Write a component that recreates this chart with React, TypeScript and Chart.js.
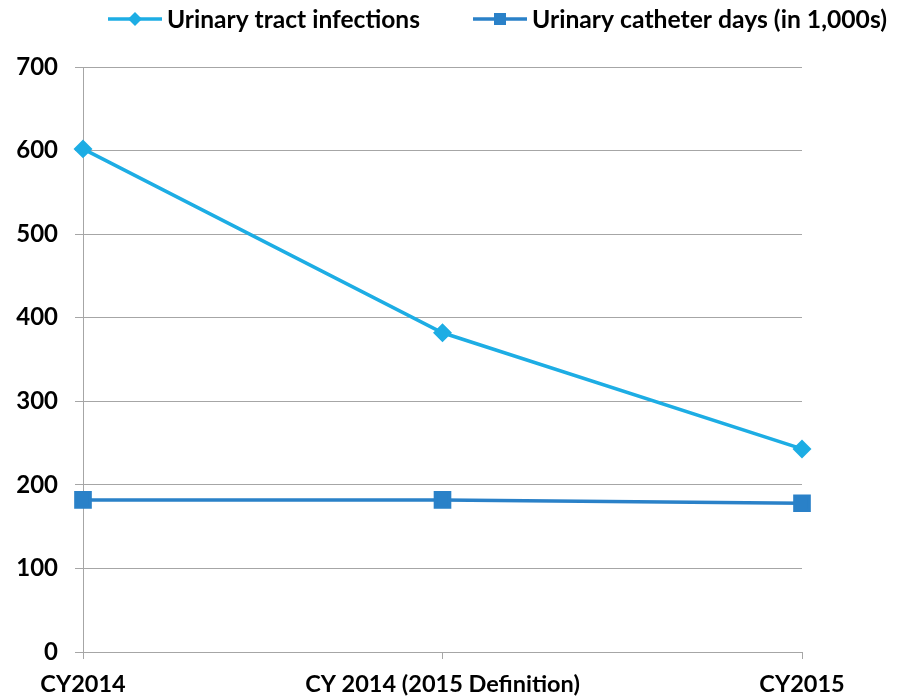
import React, { useEffect, useRef } from "react";
import { Chart, registerables } from "chart.js";

Chart.register(...registerables);

const categories = ["CY2014", "CY 2014 (2015 Definition)", "CY2015"];
const utiValues = [602, 382, 243];
const catheterValues = [182, 182, 178];
const seriesNames = ["Urinary tract infections", "Urinary catheter days (in 1,000s)"];
const seriesColors = ["#1DADE4", "#2A81C8"];
const seriesMarkers = ["rectRot", "rect"];
const yMin = 0;
const yMax = 700;
const yStep = 100;

const GRID = "#A6A6A6";
const FONT = 'Lato, "Open Sans", "Liberation Sans", sans-serif';

const legendPlugin = {
  id: "customLegend",
  afterDraw(chart: any) {
    const ctx = chart.ctx as CanvasRenderingContext2D;
    const layout = [
      { x: 108, textX: 167, textW: 253 },
      { x: 473, textX: 532, textW: 355 },
    ];
    const y = 19;
    chart.data.datasets.forEach((ds: any, i: number) => {
      const it = layout[i];
      ctx.save();
      ctx.strokeStyle = ds.borderColor;
      ctx.fillStyle = ds.borderColor;
      ctx.lineWidth = 3.5;
      ctx.beginPath();
      ctx.moveTo(it.x, y);
      ctx.lineTo(it.x + 54, y);
      ctx.stroke();
      const cx = it.x + 27;
      ctx.beginPath();
      if (ds.pointStyle === "rectRot") {
        const r = 7;
        ctx.moveTo(cx, y - r);
        ctx.lineTo(cx + r, y);
        ctx.lineTo(cx, y + r);
        ctx.lineTo(cx - r, y);
        ctx.closePath();
      } else {
        ctx.rect(cx - 6, y - 6, 12, 12);
      }
      ctx.fill();
      ctx.font = `bold 24px ${FONT}`;
      ctx.fillStyle = "#000";
      ctx.textBaseline = "middle";
      ctx.textAlign = "left";
      const w = ctx.measureText(ds.label).width;
      const sx = it.textW / w;
      ctx.translate(it.textX, y);
      ctx.scale(sx, 1);
      ctx.fillText(ds.label, 0, 1);
      ctx.restore();
    });
  },
};

export default function App() {
  const ref = useRef<HTMLCanvasElement | null>(null);

  useEffect(() => {
    if (!ref.current) return;
    const chart = new Chart(ref.current, {
      type: "line",
      data: {
        labels: categories,
        datasets: [
          {
            label: seriesNames[0],
            data: utiValues,
            borderColor: seriesColors[0],
            backgroundColor: seriesColors[0],
            pointStyle: seriesMarkers[0] as any,
            pointRadius: 7,
            pointHoverRadius: 7,
            borderWidth: 3.5,
            tension: 0,
          },
          {
            label: seriesNames[1],
            data: catheterValues,
            borderColor: seriesColors[1],
            backgroundColor: seriesColors[1],
            pointStyle: seriesMarkers[1] as any,
            pointRadius: 10,
            pointHoverRadius: 10,
            borderWidth: 3.5,
            tension: 0,
          },
        ],
      },
      options: {
        animation: false,
        responsive: false,
        maintainAspectRatio: false,
        events: [],
        layout: { padding: { top: 67, right: 95, left: 0, bottom: 0 } },
        plugins: {
          legend: { display: false },
          tooltip: { enabled: false },
          title: { display: false },
        },
        scales: {
          x: {
            type: "category",
            offset: false,
            grid: {
              display: true,
              drawOnChartArea: false,
              drawTicks: true,
              tickLength: 7,
              color: GRID,
              lineWidth: 1,
            },
            border: { display: true, color: GRID, width: 1 },
            ticks: {
              color: "#000",
              font: { family: FONT, size: 23.5, weight: "bold" },
              padding: 11,
              maxRotation: 0,
              autoSkip: false,
            },
            afterFit(scale: any) {
              scale.height = 48;
            },
          },
          y: {
            min: yMin,
            max: yMax,
            grid: {
              color: GRID,
              lineWidth: 1,
              drawTicks: true,
              tickLength: 8,
            },
            border: { display: true, color: GRID, width: 1 },
            ticks: {
              stepSize: yStep,
              color: "#000",
              font: { family: FONT, size: 24, weight: "bold" },
              padding: 17,
            },
            afterFit(scale: any) {
              scale.width = 83;
            },
          },
        },
      },
      plugins: [legendPlugin],
    });
    return () => chart.destroy();
  }, []);

  return (
    <div style={{ position: "absolute", left: 0, top: 0, width: 897, height: 700, background: "#fff" }}>
      <canvas ref={ref} width={897} height={700} style={{ width: 897, height: 700, display: "block" }} />
    </div>
  );
}
